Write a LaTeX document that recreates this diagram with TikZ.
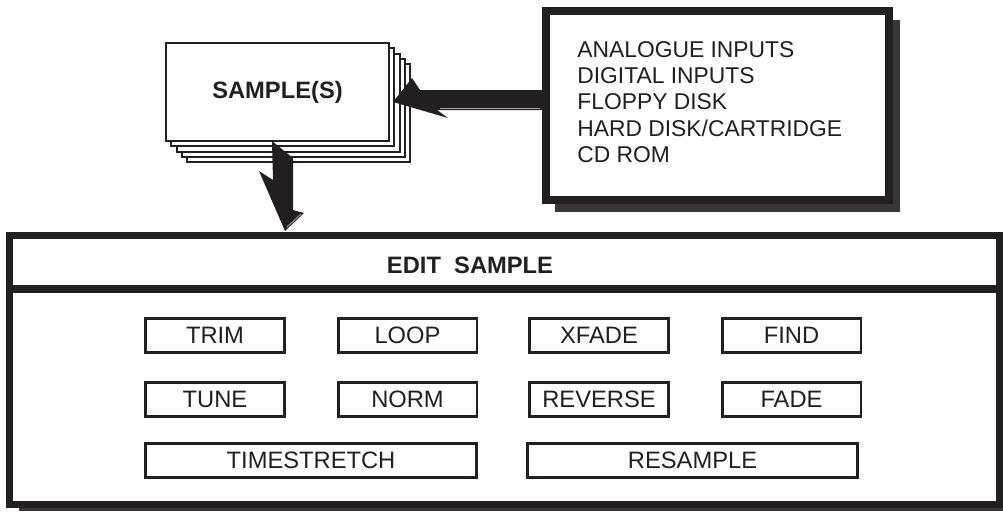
\documentclass[tikz,border=0pt]{standalone}
\usepackage{fontspec}
\setmainfont{Liberation Sans}
\definecolor{ink}{RGB}{35,31,32}
\definecolor{shadowgray}{RGB}{55,55,55}
\tikzset{
    card/.style={
        rectangle, draw=ink, line width=1.1pt,
        minimum width=4.46cm, minimum height=1.96cm,
        fill=white, inner sep=0pt, outer sep=0pt,
        font=\fontsize{13.5}{15}\selectfont\bfseries, text=ink
    },
    source/.style={
        rectangle, draw=ink, line width=4.3pt,
        minimum width=6.86cm, minimum height=3.78cm,
        fill=white, inner sep=0pt, outer sep=0pt
    },
    srclist/.style={
        align=left, inner sep=0pt, text=ink,
        font=\fontsize{13}{15}\selectfont
    },
    editbox/.style={
        rectangle, draw=ink, line width=4pt,
        minimum width=19.8cm, minimum height=5.38cm,
        fill=white, inner sep=0pt, outer sep=0pt
    },
    title/.style={
        inner sep=0pt, text=ink,
        font=\fontsize{13.5}{15}\selectfont\bfseries
    },
    tool/.style={
        rectangle, draw=ink, line width=1.7pt,
        minimum width=2.78cm, minimum height=0.68cm,
        fill=white, inner sep=0pt, outer sep=0pt,
        font=\fontsize{13.5}{15}\selectfont, text=ink
    },
    divider/.style={draw=ink, line width=4.5pt},
    fatarrow/.style={fill=ink},
    gleam/.style={draw=gray!70, line width=0.5pt}
}

\begin{document}
\begin{tikzpicture}[x=0.02cm, y=-0.02cm]
\useasboundingbox (0,0) rectangle (1003,511);

% Stack of samples
\node[card] (card4) at (298.7,113.2) {};
\node[card] (card3) at (293.4,107.9) {};
\node[card] (card2) at (288.1,102.6) {};
\node[card] (card1) at (282.8,97.3) {};
\node[card] (samples) at (277.5,92) {SAMPLE(S)};

% Sources box
\fill[shadowgray] (555,20) rectangle (900,212);
\node[source] (sources) at (717.5,105.5) {};
\node[srclist, anchor=west] (srclist) at (577,102)
    {ANALOGUE INPUTS\\DIGITAL INPUTS\\FLOPPY DISK\\HARD DISK/CARTRIDGE\\CD ROM};

% Edit area
\fill[shadowgray] (19,240) rectangle (1003,511);
\node[editbox] (edit) at (504.5,370) {};
\node[title] (edittitle) at (470,265) {EDIT\ \ SAMPLE};
\coordinate (divl) at (8,289);
\coordinate (divr) at (1001,289);
\draw[divider] (divl) -- (divr);

% Edit functions
\node[tool] (trim) at (215,335.5) {TRIM};
\node[tool] (loop) at (407.5,335.5) {LOOP};
\node[tool] (xfade) at (599,335.5) {XFADE};
\node[tool] (find) at (791.5,335.5) {FIND};
\node[tool] (tune) at (215,399.5) {TUNE};
\node[tool] (norm) at (407.5,399.5) {NORM};
\node[tool] (reverse) at (599,399.5) {REVERSE};
\node[tool] (fade) at (791.5,399.5) {FADE};
\node[tool, minimum width=6.62cm] (timestretch) at (311,460.5) {TIMESTRETCH};
\node[tool, minimum width=6.62cm] (resample) at (692.5,460.5) {RESAMPLE};

% Fat arrows
\fill[fatarrow] (546,90) -- (420,90) -- (412,78) -- (393,102) -- (448,118)
    -- (437,110) -- (546,110) -- cycle;
\draw[gleam] (440,108) -- (540,108);
\fill[fatarrow] (272,141) -- (293,158) -- (293,210) -- (304,213) -- (285,231)
    -- (259,171) -- (273,180) -- cycle;
\draw[gleam] (287,227) -- (301,214);

\end{tikzpicture}
\end{document}
